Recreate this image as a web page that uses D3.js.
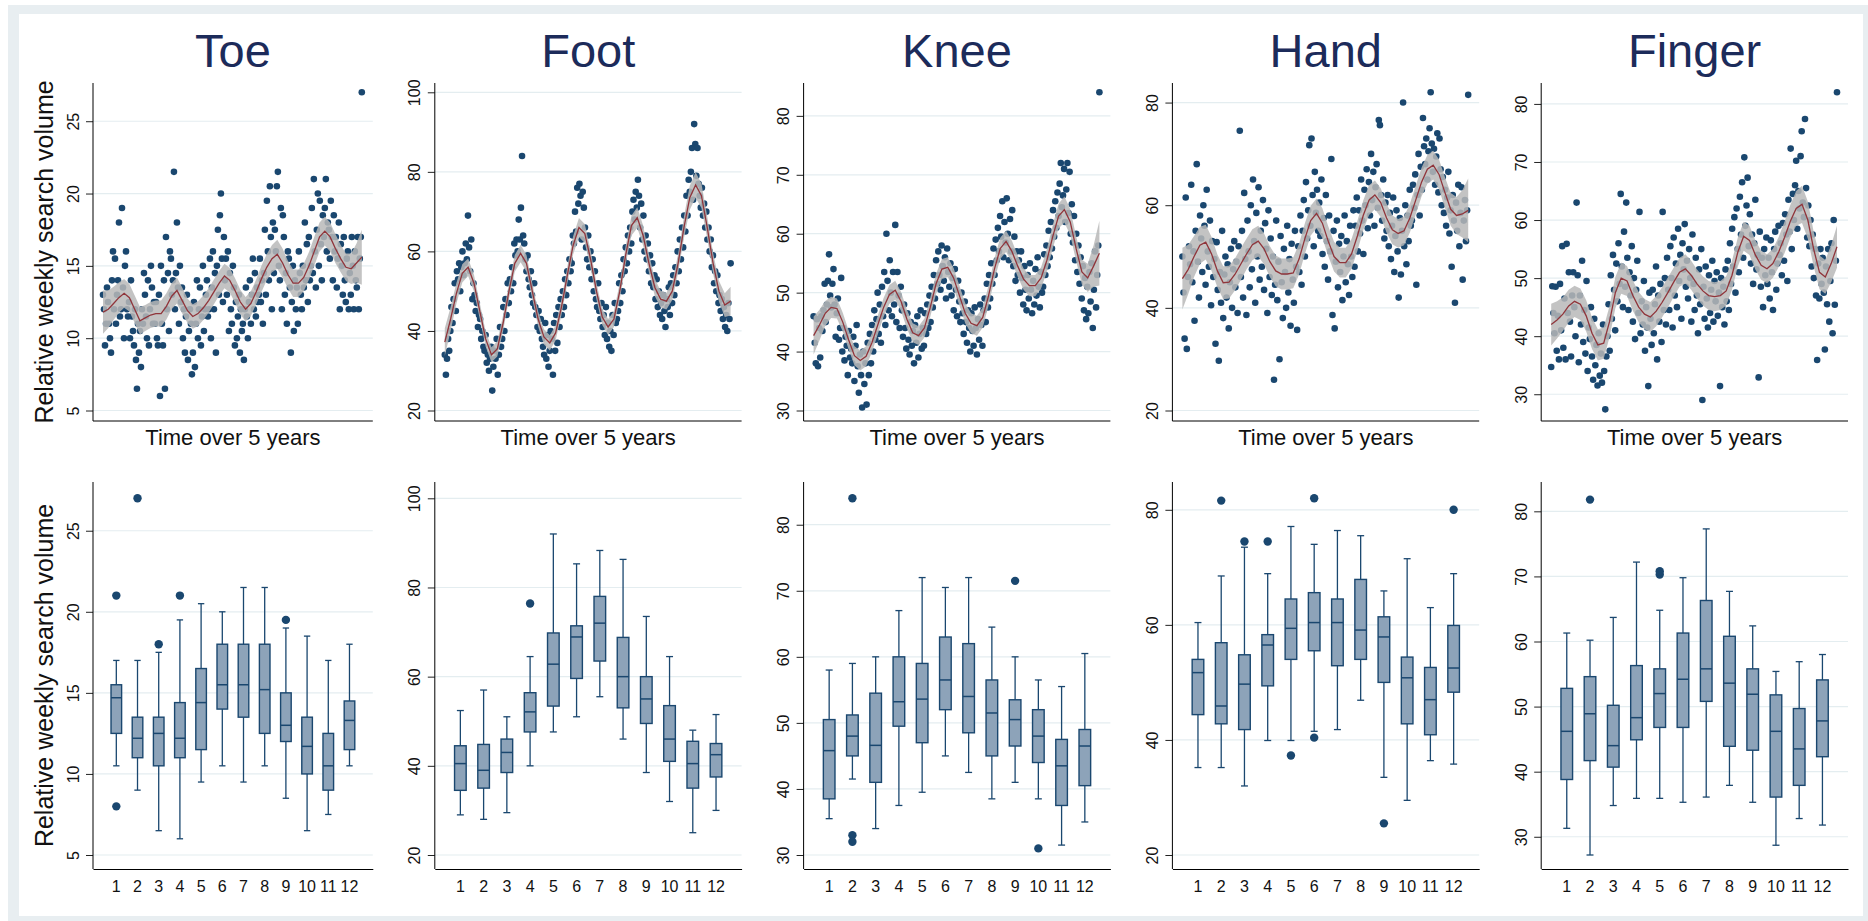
<!DOCTYPE html>
<html>
<head>
<meta charset="utf-8">
<script src="https://cdn.jsdelivr.net/npm/d3@7"></script>
<style>
  body { margin: 0; background: #fff; }
  text { font-family: "Liberation Sans", Arial, sans-serif; }
</style>
</head>
<body>
<svg id="chart" width="1868" height="921"></svg>
<script>
// ---- data ----
const titles = ["Toe", "Foot", "Knee", "Hand", "Finger"];
const months = ["1","2","3","4","5","6","7","8","9","10","11","12"];

const toeTicks = [5, 10, 15, 20, 25];
const footTicks = [20, 40, 60, 80, 100];
const kneeTicks = [30, 40, 50, 60, 70, 80];
const handTicks = [20, 40, 60, 80];
const fingerTicks = [30, 40, 50, 60, 70, 80];

const toeRange = [5, 27];
const footRange = [20, 100];
const kneeRange = [30, 84];
const handRange = [20, 82];
const fingerRange = [27.2, 82];

// weekly relative search volume, 5 years
const toeWeekly = [
  13,12,9.5,11,13.5,12.5,11,10,9,14,16,12,15.5,11,13,14,18,11.5,12,19,13.5,10,15,16,12,11.5,12.5,10,14,11.5,10.5,9.5,12,8.5,6.5,11,9,10.5,8,12,11,14.5,13,11.5,10,14,9.5,12,15,13.5,11,12.5,
  11,12.5,10,9.5,13,6,15,11,9.5,14,6.5,17,12,14.5,10.5,16,15.5,13,14,21.5,12,14.5,18,13.5,11,15,12.5,13.5,10,12,9,11.5,13,8.5,10.5,12,11,7.5,9,12.5,8,11,14,10,12,13.5,9.5,11.5,15,10.5,12,13,
  14,11.5,12,15.5,10,13.5,16,12,14.5,9,15,17.5,13,18.5,20,15.5,12.5,17,14,15.5,13,16,10.5,14.5,12,11,15,13.5,9.5,12.5,10,11.5,13,9,12,10.5,11,8.5,12,13.5,11.5,10,12.5,14,11,13,15.5,12,14.5,11.5,13.5,12.5,
  13,15.5,12.5,14,11,14.5,17.5,13,19.5,16,14,20.5,17,12,18,14.5,17.5,16,20.5,21.5,15,14,19,12,18.5,17,13,14.5,11,16,15.5,13.5,9,12.5,15,10.5,14,12,13.5,11,16,14.5,13,12,15,13.5,18,14,16.5,12.5,17,14,
  15,19,14.5,21,16,13.5,17.5,20,15,19.5,16.5,14,18.5,17,19,21,16,18,17.5,15.5,19.5,17,14,18.5,16,17,13.5,15.5,18,12,16.5,15,13,17,14,12.5,15.5,16,12,14.5,13,17,15,12,16,14,13.5,17,12,15.5,17,27
];
const footWeekly = [
  34,29,33,38,35,40,46,42,48,52,45,55,53,57,50,56,60,54,57,62,58,69,61,55,63,48,52,49,45,47,41,44,43,38,40,36,35,39,32,34,30,33,36,25,31,35,33,38,29,34,41,36,
  38,46,40,48,44,52,47,53,50,56,52,62,59,63,60,68,63,71,84,64,62,58,55,59,53,51,55,49,47,52,46,44,41,45,40,43,38,36,34,42,33,39,31,35,40,38,29,42,35,44,37,46,
  41,48,44,50,46,53,49,55,52,58,55,57,64,62,70,65,76,72,77,74,63,75,71,66,61,58,64,56,60,53,58,50,55,48,46,52,45,43,47,41,44,39,46,38,42,36,40,35,44,39,47,42,
  43,45,52,47,54,50,58,55,61,57,64,60,66,62,70,73,68,75,71,78,74,66,72,63,69,60,64,58,62,55,59,52,57,51,54,48,53,46,50,44,47,43,49,45,41,48,46,51,44,52,47,54,
  49,56,52,60,55,63,58,66,61,69,65,74,69,78,75,80,86,73,92,87,79,86,77,74,71,76,69,72,66,70,63,66,60,63,56,59,52,55,50,54,47,49,45,48,43,46,41,44,40,47,43,57
];
const kneeWeekly = [
  46,41.5,38,45.5,37.5,44,39,46,43.5,47,51.5,45,48,52,56.5,49.5,47.5,51.5,54,48,42.5,46.5,49,42,44,52.5,40,44,38.5,42.5,41,36,43.5,39,40.5,38,42.5,35,41,44.5,37.5,33,39.5,36,30.5,40,34.5,38,31,41.5,36,43,
  38,44.5,40,47,42,45.5,50,43,48,41.5,51,46,53.5,44.5,60,52,47,55.5,50,46,53.5,48,61.5,45,53.5,49.5,44,51,47,42.5,48,44,40.5,46.5,42,39.5,45,41,43.5,38,44.5,41.5,46,39,43,47,40.5,44,41,46.5,43,48,
  44,49.5,45,51,47.5,53,49,55.5,51.5,57,53,50.5,58,54.5,52,56,49,57.5,53.5,51,55,49.5,52.5,47,54,50.5,46,52,48.5,45,50,46.5,43,48.5,45,41.5,47,44,40,46.5,43.5,41,47.5,44,39.5,45.5,42,48,44.5,41,47,49,
  45,51.5,47.5,53,49,55,51.5,57.5,53,59,55.5,61,57,63,59.5,65.5,56,62,58.5,66,60,55.5,62.5,57,64,54.5,59.5,52,57,53,55.5,50,57,52.5,48,54.5,50.5,47,53,49,55,50.5,46.5,52,48,54,49.5,56,51,47.5,53.5,50,
  51,56.5,53,58,54.5,60.5,56,62,57.5,64,59.5,65.5,61,67,63,68.5,72,64.5,66.5,71,62,67.5,72,63.5,70.5,60,65,58.5,63,55.5,60,53.5,58,51.5,56,49,54.5,47,52.5,45.5,51,46.5,53.5,48.5,55,44,50.5,57,47.5,53,58,84
];
const handWeekly = [
  50,43,34,61.5,32,46,52,48.5,64,45,51,37.5,55,68,49,42,58,53.5,47,60,56,44.5,63,51,48,57,40.5,53,46,49.5,33,52.8,43.5,29.7,47,41,55,38,46.5,50,42,48.5,36,45,51.5,40,47.5,53,44,49,39,52,
  74.5,46,55,42,62.4,49.5,38.6,57,51,44,60,47.5,65,53,41,58.5,50,63.5,45.5,55,48,61,43.5,56.5,51.5,39,59,46,53.5,42.5,50,26,44.5,57,41.5,49,30,54,45,38,51.5,47,40,56,43,49.5,36.5,52.5,45.5,41,55,48,
  35.7,52,47,58,44.5,55,61,50,64.5,53.5,59,71.7,56,73,62,52,66.5,58.5,63,55,60.5,54,65,50.5,57.5,48,62,53,45.5,58,51,69,38.6,55,36,49,57,44,52.5,47,54,41.5,50,58,45,53,48.5,42.5,56,50,46,59,
  48,56,61.5,51,59,54.5,65,57,50.5,63,60,67,55.5,64.5,58,70,61,66.5,56,63.5,68,59.5,76.6,75.6,62,57,65,53.5,60.5,55,62,52,58.5,49.5,56,61.5,47,54,59,51,42,57.5,46.5,55,80,52,60,48.5,58,53,63,56,
  57,64,59.5,66,44.5,62,70,58,67.5,63,77,71.5,68,73,65,70.5,75,82,72,66.5,71,64,69.5,74,62.5,73,67,60,65.5,58.5,63,56,61.5,66.5,54.5,59,48,62,57,41,60.5,55,64,52,58.5,63.5,45.5,57,61,53,59,81.5
];
const fingerWeekly = [
  34.7,48.6,44,40.5,48.5,37.5,43.5,36,49,41,55.5,38,46.5,36,55.9,44,51,42.5,36.5,47,51,45,40,63,50.5,35.5,47,42,53,39,44.5,37,49.5,34,41.5,39.5,45,36.5,32.5,43,35,38.5,31.5,40.5,33.2,37,32,42,34,27.4,36.5,40,
  45.5,37.5,50.5,43,54,48,41,52.5,46,56,49,64.5,52,45,58,48.5,63,53.5,44.5,51,47,55.5,42.5,50,39.5,48,53,44,61.4,40.5,46,42,49.5,37.5,45,41.5,31.4,47.5,43,38.5,48,40.5,45.5,52,36,47,42.5,49,39,61.4,44.5,50,
  42,53.5,48,44.5,55.5,50,41.5,57,47,52.5,45,58.5,49.5,54,43,56,51.5,59.3,48.5,53,46.5,55,50,42.5,57.5,49,44.5,53.5,47,40.5,51.5,45.5,55,29,48.5,43,52,46.5,41.5,50.5,44,48,53,42.5,49.5,46,51,43.5,47.5,31.4,50,45,
  48.5,42,51.5,46,53,44.5,56,49,58.5,52,60.5,47.5,62,55,51,64,57.5,66.5,53.5,70.8,59,62.5,67.3,55.5,61,52.5,57.5,49,56,63.5,51.5,54,32.9,58,48.5,53.5,45,55,50.5,57,49,53.5,46.5,56.5,51,44.5,55,58,48,52.5,59,54,
  56,50.5,59.5,53,61,57.5,49.5,63.5,58,72.3,55,64.5,60,66,70.2,58.5,65,62,71,75.3,63,60.5,77.4,65.5,57,62.5,55.5,60,52,57.5,50,55,47,35.9,52.5,46.5,55,49,53.5,47.5,37.7,52,45.5,55,42.5,49.5,56,40.5,60,45.4,53,82
];

// local polynomial smooth at 50 grid points, and half-width of its CI
const toeSmooth = [11.8,12.0,12.4,12.8,13.1,12.8,12.0,11.2,11.4,11.6,11.7,11.7,12.2,12.9,13.3,12.6,11.9,11.5,11.7,12.1,12.6,13.2,13.8,14.3,14.0,13.3,12.5,12.0,12.4,13.2,14.1,14.9,15.5,15.8,15.2,14.4,13.8,13.8,14.2,15.0,16.0,17.0,17.4,17.0,16.2,15.5,14.9,14.8,15.2,15.6];
const toeCI = [1.5,1.3,1.15,1.05,1.0,0.95,0.95,0.95,0.9,0.9,0.9,0.9,0.9,0.9,0.9,0.9,0.85,0.85,0.85,0.85,0.85,0.85,0.85,0.85,0.85,0.85,0.85,0.85,0.85,0.85,0.9,0.9,0.95,1.0,1.0,0.95,0.95,0.95,0.95,0.95,1.0,1.0,1.0,1.0,1.0,0.95,0.95,1.05,1.35,1.9];
const footSmooth = [37.2,43,49.5,54.5,56,52,45,38,34,35.5,42,50,57,59.5,57,50,43,38.5,37,39.5,46,54,61.5,66,64.5,58,50,43.5,41,43,50,59,66.5,68.5,64,57,51,48,47.5,50,57,66,73.5,76.7,74,66,57,50,46.5,47.5];
const footCI = [3.5,3.0,2.6,2.3,2.2,2.1,2.0,1.9,1.9,1.9,2.0,2.0,2.1,2.2,2.1,2.0,1.9,1.9,1.9,1.9,2.0,2.1,2.3,2.4,2.4,2.3,2.1,2.0,2.0,2.0,2.1,2.3,2.5,2.6,2.5,2.3,2.2,2.1,2.1,2.2,2.4,2.7,3.0,3.2,3.1,2.8,2.6,2.6,3.0,3.6];
const kneeSmooth = [42.7,44.5,46.5,47.5,47.3,45,42,39.3,38.5,39.2,41.5,44.5,47.5,49.7,50.4,48.5,45.5,43.2,42.7,44,47.5,51.5,54,54.3,52.5,49.5,46.5,44.8,44.4,45.8,49.5,54,57.5,58.7,57,54.5,52.3,51.2,51.2,52.5,55.5,59.5,63,64.1,62,57.5,53.5,52.5,54.5,56.7];
const kneeCI = [3.2,2.6,2.1,1.8,1.7,1.6,1.6,1.6,1.7,1.7,1.6,1.6,1.6,1.6,1.6,1.6,1.6,1.6,1.6,1.6,1.6,1.7,1.7,1.7,1.7,1.7,1.7,1.7,1.7,1.7,1.7,1.8,1.8,1.8,1.8,1.8,1.8,1.8,1.8,1.8,1.9,2.0,2.1,2.2,2.2,2.1,2.1,2.4,3.5,5.5];
const handSmooth = [45.7,47.5,50,52.2,52.8,50.5,47.2,44.9,45,46.5,48.5,50.5,52.3,53,51.5,49,47.2,46.6,46.6,46.8,49.5,53.5,57,58.4,56.5,53,50,48.8,48.8,50.5,54,58,61,62,60.5,57.5,55.2,54.5,55,57.5,61,64.5,67,67.8,66,62.5,59.2,58,58.3,59];
const handCI = [6.0,4.8,4.0,3.6,3.4,3.3,3.2,3.2,3.2,3.1,3.1,3.0,3.0,3.0,3.0,3.0,3.0,3.0,3.0,3.0,3.0,3.0,2.9,2.9,2.9,2.9,2.9,2.9,2.9,2.9,2.9,2.9,2.9,2.8,2.8,2.8,2.8,2.8,2.8,2.8,2.8,2.8,2.8,2.8,2.9,3.0,3.2,3.6,4.6,6.2];
const fingerSmooth = [42,42.8,43.8,45.2,46,45.5,43.5,40.5,38.5,38.8,42.5,47.5,50,49.5,47,45,43.8,43.3,44.3,45.8,47.5,49.3,51,51.6,50.5,49,47.8,47,46.8,47,47.8,50.5,54.5,57.2,56.5,54,52.2,51.6,52.5,54.5,57,59.8,62,62.7,60,55,51,50.2,52.5,55.4];
const fingerCI = [3.6,3.2,2.9,2.8,2.7,2.7,2.7,2.7,2.7,2.7,2.7,2.7,2.7,2.6,2.6,2.6,2.6,2.6,2.6,2.6,2.6,2.5,2.5,2.5,2.5,2.5,2.5,2.5,2.5,2.5,2.5,2.5,2.5,2.5,2.5,2.5,2.5,2.5,2.5,2.6,2.7,2.8,3.0,3.2,3.2,3.0,2.9,2.9,3.2,3.6];

// box plots by month: [lower whisker, q1, median, q3, upper whisker]
const toeBox = [[10.5,12.5,14.7,15.5,17],[9,11,12.2,13.5,17],[6.5,10.5,12.5,13.5,17.5],[6,11,12.2,14.4,19.5],[9.5,11.5,14.4,16.5,20.5],[10.5,14,15.5,18,20],[9.5,13.5,15.5,18,21.5],[10.5,12.5,15.2,18,21.5],[8.5,12,13,15,19],[6.5,10,11.7,13.5,18.5],[7.5,9,10.5,12.5,17],[10.5,11.5,13.3,14.5,18]];
const toeOutliers = [[1,21],[1,8],[2,27],[3,18],[4,21],[9,19.5]];
const footBox = [[29,34.5,40.5,44.5,52.4],[28,35,39,44.8,57],[29.5,38.5,43,46,51],[40,47.6,52.1,56.4,64.5],[47.6,53.4,62.8,69.8,92],[51,59.6,68.9,71.4,85.3],[55.5,63.5,72,78,88.3],[46,53,60,68.8,86.3],[38.5,49.5,55,60,73.5],[32,41,46,53.5,64.5],[25,35,40.5,45.5,48],[30,37.5,42.5,45,51.5]];
const footOutliers = [[4,76.4]];
const kneeBox = [[35.5,38.5,45.8,50.5,58],[41.5,45,48,51.2,59],[34,41,46.6,54.5,60],[37.5,49.5,53.2,60,67],[39.5,47,53.6,59,72],[45,52,56.5,63,70.5],[42.5,48.5,54,62,72],[38.5,45,51.5,56.5,64.5],[41,46.5,50.5,53.5,60],[38.5,44,48,52,56.5],[31.5,37.5,43.5,47.5,55.5],[35,40.5,46.5,49,60.5]];
const kneeOutliers = [[2,84],[2,33],[2,32],[9,71.5],[10,31]];
const handBox = [[35.2,44.4,51.7,54,60.4],[35.2,42.8,45.9,56.9,68.5],[32,41.8,49.7,54.8,73.5],[39.9,49.4,56.5,58.3,68.9],[39.9,54,59.4,64.5,77.1],[41.5,55.5,60.4,65.6,74],[41.8,52.9,60.4,64.5,76.4],[46.9,54,59.1,67.9,75.5],[33.5,50,57.9,61.4,65.9],[29.5,42.8,50.8,54.4,71.5],[36.4,40.9,47,52.6,63],[35.8,48.3,52.5,59.9,68.9]];
const handOutliers = [[2,81.6],[3,74.5],[4,74.5],[5,37.3],[6,82],[6,40.4],[9,25.5],[12,80]];
const fingerBox = [[31.3,38.8,46.2,52.8,61.3],[27.2,41.7,48.9,54.6,60.2],[34.8,40.7,44,50.2,63.7],[35.9,44.9,48.3,56.3,72.2],[35.9,46.8,52,55.8,64.8],[35.3,46.8,54.2,61.3,69.8],[36.1,50.8,55.8,66.3,77.3],[37.9,43.9,53.6,60.8,67.7],[35.3,43.3,51.9,55.8,62.4],[28.7,36.1,46.2,51.8,55.4],[32.8,37.9,43.5,49.7,56.9],[31.8,42.3,47.8,54.1,58]];
const fingerOutliers = [[2,81.8],[5,70.3],[5,70.8]];

const panels = [
  {title: titles[0], weekly: toeWeekly, smooth: toeSmooth, ci: toeCI, box: toeBox, out: toeOutliers, ticks: toeTicks, range: toeRange},
  {title: titles[1], weekly: footWeekly, smooth: footSmooth, ci: footCI, box: footBox, out: footOutliers, ticks: footTicks, range: footRange},
  {title: titles[2], weekly: kneeWeekly, smooth: kneeSmooth, ci: kneeCI, box: kneeBox, out: kneeOutliers, ticks: kneeTicks, range: kneeRange},
  {title: titles[3], weekly: handWeekly, smooth: handSmooth, ci: handCI, box: handBox, out: handOutliers, ticks: handTicks, range: handRange},
  {title: titles[4], weekly: fingerWeekly, smooth: fingerSmooth, ci: fingerCI, box: fingerBox, out: fingerOutliers, ticks: fingerTicks, range: fingerRange}
];

// ---- drawing ----
const navy = "#1a476f", maroon = "#90353b", gridCol = "#e4edf0";
const svg = d3.select("#chart");
svg.append("rect").attr("x", 8).attr("y", 5).attr("width", 1860).attr("height", 916).attr("fill", "#e8eef1");
svg.append("rect").attr("x", 19).attr("y", 14).attr("width", 1844).attr("height", 902).attr("fill", "#fff");

const cellW = (1863 - 19) / 5;
const topRow = {y0: 83, y1: 421, inner: [410.5, 92.3]};
const botRow = {y0: 482, y1: 869, inner: [855, 498.3]};

function yAxis(g, y, ticks, left) {
  const ax = g.append("g").attr("transform", `translate(${left},0)`)
    .call(d3.axisLeft(y).tickValues(ticks).tickSize(7).tickSizeOuter(0).tickFormat(d3.format("d")));
  ax.select(".domain").remove();
  ax.selectAll(".tick line").attr("stroke", "#222");
  ax.selectAll(".tick text")
    .attr("transform", "rotate(-90)")
    .attr("x", 0).attr("y", -20).attr("dy", "0.35em")
    .attr("text-anchor", "middle")
    .attr("font-size", 16).attr("fill", "#111");
}

function gridLines(g, y, ticks, left, right) {
  g.append("g").selectAll("line").data(ticks).join("line")
    .attr("x1", left).attr("x2", right)
    .attr("y1", d => y(d)).attr("y2", d => y(d))
    .attr("stroke", gridCol).attr("stroke-width", 1.2);
}

panels.forEach((p, i) => {
  const left = 19 + i * cellW + (i === 0 ? 74 : 47);
  const right = 19 + (i + 1) * cellW - 15;
  const cx = (left + right) / 2;
  const g = svg.append("g");

  g.append("text").attr("x", cx).attr("y", 67).attr("text-anchor", "middle")
    .attr("font-size", 47).attr("fill", "#1c2b5a").text(p.title);

  // top: weekly series with smooth
  const n = p.weekly.length;
  const x = d3.scaleLinear().domain([0, n - 1]).range([left + 10, right - 11]);
  const y = d3.scaleLinear().domain(p.range).range(topRow.inner);
  gridLines(g, y, p.ticks, left, right);

  const step = (n - 1) / (p.smooth.length - 1);
  const sm = p.smooth.map((v, k) => ({w: k * step, v: v, h: p.ci[k]}));
  g.append("g").selectAll("circle").data(p.weekly).join("circle")
    .attr("cx", (d, k) => x(k)).attr("cy", d => y(d)).attr("r", 3.3).attr("fill", navy);
  g.append("path").datum(sm)
    .attr("d", d3.area().x(d => x(d.w)).y0(d => y(d.v - d.h)).y1(d => y(d.v + d.h)))
    .attr("fill", "#b9b9b9").attr("fill-opacity", 0.85);
  g.append("path").datum(sm)
    .attr("d", d3.line().x(d => x(d.w)).y(d => y(d.v)))
    .attr("fill", "none").attr("stroke", maroon).attr("stroke-width", 1.3);

  yAxis(g, y, p.ticks, left);
  g.append("line").attr("x1", left).attr("x2", left).attr("y1", topRow.y0).attr("y2", topRow.y1).attr("stroke", "#000");
  g.append("line").attr("x1", left).attr("x2", right).attr("y1", topRow.y1).attr("y2", topRow.y1).attr("stroke", "#000");
  g.append("text").attr("x", cx).attr("y", 445).attr("text-anchor", "middle")
    .attr("font-size", 22).attr("fill", "#111").text("Time over 5 years");

  // bottom: box plots by month
  const xb = d3.scaleBand().domain(months).range([left, right]).paddingInner(0.5).paddingOuter(0.85);
  const yb = d3.scaleLinear().domain(p.range).range(botRow.inner);
  gridLines(g, yb, p.ticks, left, right);
  const bw = xb.bandwidth();
  const bx = g.append("g").selectAll("g").data(p.box).join("g")
    .attr("transform", (d, k) => `translate(${xb(months[k])},0)`);
  bx.append("line").attr("x1", bw / 2).attr("x2", bw / 2)
    .attr("y1", d => yb(d[0])).attr("y2", d => yb(d[4]))
    .attr("stroke", navy).attr("stroke-width", 1.3);
  [0, 4].forEach(j => {
    bx.append("line").attr("x1", bw * 0.2).attr("x2", bw * 0.8)
      .attr("y1", d => yb(d[j])).attr("y2", d => yb(d[j]))
      .attr("stroke", navy).attr("stroke-width", 1.3);
  });
  bx.append("rect").attr("x", 0).attr("width", bw)
    .attr("y", d => yb(d[3])).attr("height", d => yb(d[1]) - yb(d[3]))
    .attr("fill", "#8da3b9").attr("stroke", navy).attr("stroke-width", 1.4);
  bx.append("line").attr("x1", 0).attr("x2", bw)
    .attr("y1", d => yb(d[2])).attr("y2", d => yb(d[2]))
    .attr("stroke", navy).attr("stroke-width", 1.5);
  g.append("g").selectAll("circle").data(p.out).join("circle")
    .attr("cx", d => xb(months[d[0] - 1]) + bw / 2).attr("cy", d => yb(d[1]))
    .attr("r", 4.2).attr("fill", navy);

  yAxis(g, yb, p.ticks, left);
  g.append("line").attr("x1", left).attr("x2", left).attr("y1", botRow.y0).attr("y2", botRow.y1).attr("stroke", "#000");
  const xa = g.append("g").attr("transform", `translate(0,${botRow.y1})`)
    .call(d3.axisBottom(xb).tickSize(0).tickPadding(11.5));
  xa.select(".domain").attr("stroke", "#000");
  xa.selectAll("text").attr("font-size", 16).attr("fill", "#111");

  if (i === 0) {
    [(topRow.y0 + topRow.y1) / 2, (botRow.y0 + botRow.y1) / 2].forEach(cy => {
      g.append("text").attr("transform", `translate(44,${cy}) rotate(-90)`)
        .attr("text-anchor", "middle").attr("dy", "0.35em")
        .attr("font-size", 25).attr("fill", "#111").text("Relative weekly search volume");
    });
  }
});
</script>
</body>
</html>
